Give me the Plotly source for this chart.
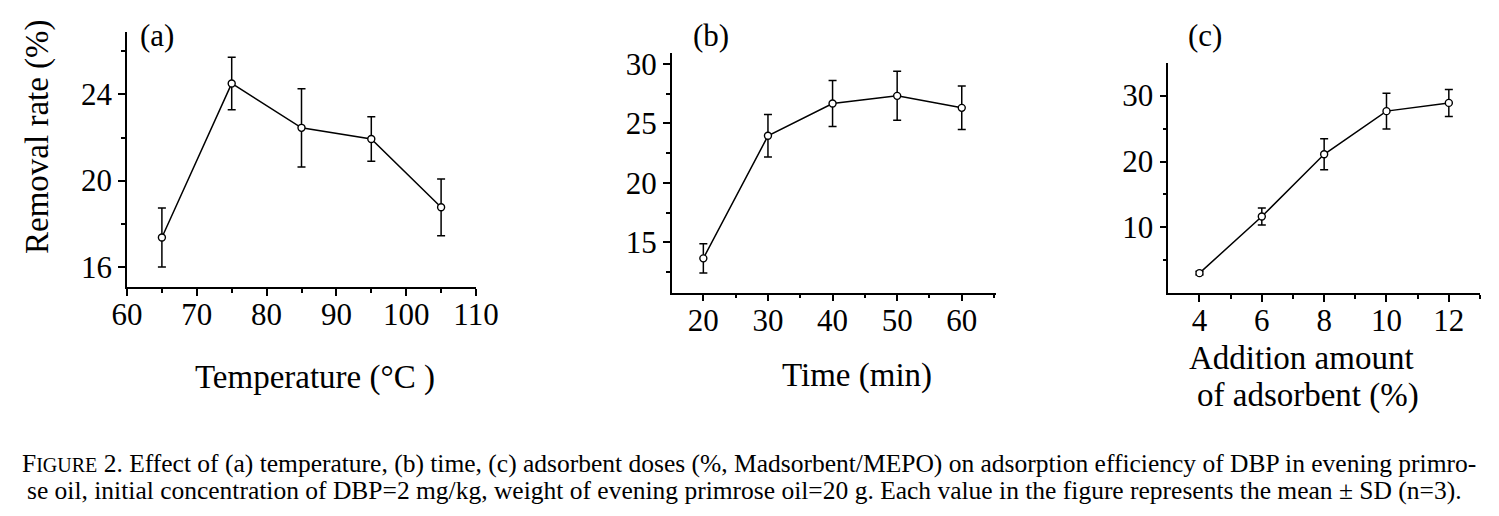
"""Figure 2: DBP removal rate vs temperature, time and adsorbent dose."""

import plotly.graph_objects as go

# panel (a) temperature
temperature = [65, 75, 85, 95, 105]
rate_a = [17.36, 24.51, 22.45, 21.93, 18.76]
sd_a = [1.37, 1.22, 1.82, 1.03, 1.32]

# panel (b) time
time_min = [20, 30, 40, 50, 60]
rate_b = [13.65, 23.96, 26.68, 27.32, 26.31]
sd_b = [1.23, 1.79, 1.94, 2.06, 1.83]

# panel (c) adsorbent dose
dose = [4, 6, 8, 10, 12]
rate_c = [3.06, 11.65, 21.1, 27.65, 28.9]
sd_c = [0.3, 1.3, 2.35, 2.7, 2.05]

# page body keeps its default 8px margin, so the figure is drawn that much smaller
OFF = 8
W, H = 1499 - OFF, 516 - OFF
FONT = "Liberation Serif"


def px_x(v):
    return (v - OFF) / W


def px_y(v):
    return 1 - (v - OFF) / H


def series(x, y, sd, xa, ya):
    return go.Scatter(
        x=x, y=y, xaxis=xa, yaxis=ya,
        mode="lines+markers",
        line=dict(color="black", width=1.5),
        marker=dict(symbol="circle", size=7, color="white",
                    line=dict(color="black", width=1.4)),
        error_y=dict(type="data", array=sd, color="black",
                     thickness=1.5, width=4),
        showlegend=False,
        cliponaxis=False,
    )


fig = go.Figure()
fig.add_trace(series(temperature, rate_a, sd_a, "x", "y"))
fig.add_trace(series(time_min, rate_b, sd_b, "x2", "y2"))
fig.add_trace(series(dose, rate_c, sd_c, "x3", "y3"))

axis_common = dict(
    showline=True, linecolor="black", linewidth=1.5,
    ticks="outside", ticklen=7, tickwidth=1.5, tickcolor="black",
    showgrid=False, zeroline=False, automargin=False,
    tickfont=dict(family=FONT, size=31, color="black"),
)
x_common = dict(axis_common, ticklabelstandoff=-8)
minor_common = dict(ticks="outside", ticklen=4, tickwidth=1.5, tickcolor="black")

fig.update_layout(
    width=W, height=H, autosize=False,
    margin=dict(l=0, r=0, t=0, b=0, pad=0, autoexpand=False),
    paper_bgcolor="white", plot_bgcolor="white",
    font=dict(family=FONT, color="black"),
    xaxis=dict(x_common, domain=[px_x(127), px_x(476)], range=[60, 110],
               dtick=10, anchor="y",
               minor=dict(minor_common, tickvals=[65, 75, 85, 95, 105])),
    yaxis=dict(axis_common, domain=[px_y(287), px_y(32)], range=[15.06, 26.9],
               tickvals=[16, 20, 24], anchor="x",
               minor=dict(minor_common, tickvals=[18, 22, 26])),
    xaxis2=dict(x_common, domain=[px_x(671.7), px_x(996)], range=[15.1, 65.3],
                tickvals=[20, 30, 40, 50, 60], anchor="y2",
                minor=dict(minor_common, tickvals=[25, 35, 45, 55, 65])),
    yaxis2=dict(axis_common, domain=[px_y(292.7), px_y(52.7)], range=[10.76, 30.95],
                tickvals=[15, 20, 25, 30], anchor="x2",
                minor=dict(minor_common, tickvals=[12.5, 17.5, 22.5, 27.5])),
    xaxis3=dict(x_common, domain=[px_x(1168.3), px_x(1480)], range=[3, 13],
                tickvals=[4, 6, 8, 10, 12], anchor="y3",
                minor=dict(minor_common, tickvals=[5, 7, 9, 11, 13])),
    yaxis3=dict(axis_common, domain=[px_y(293.3), px_y(62.7)], range=[0, 35],
                tickvals=[10, 20, 30], anchor="x3",
                minor=dict(minor_common, tickvals=[5, 15, 25])),
)


def label(text, x, y, size, xanchor="center", **kw):
    fig.add_annotation(text=text, x=px_x(x), y=px_y(y), xref="paper", yref="paper",
                       xanchor=xanchor, yanchor="middle", showarrow=False,
                       font=dict(family=FONT, size=size, color="black"), **kw)


label("(a)", 157, 35, 31)
label("(b)", 711, 35, 31)
label("(c)", 1205, 35, 31)
label("Removal rate (%)", 37, 137, 33, textangle=-90)
label("Temperature (°C )", 315, 377, 33)
label("Time (min)", 857, 375, 33)
label("Addition amount", 1301, 358, 33)
label("of adsorbent (%)", 1308, 395, 33)

cap1 = ("F<span style='font-size:20px'>IGURE</span> 2. Effect of (a) temperature, (b) time, "
        "(c) adsorbent doses (%, Madsorbent/MEPO) on adsorption efficiency of DBP in evening primro-")
cap2 = ("se oil, initial concentration of DBP=2 mg/kg, weight of evening primrose oil=20 g. "
        "Each value in the figure represents the mean ± SD (n=3).")
label(cap1, 20, 463, 25.5, xanchor="left")
label(cap2, 25, 490, 25.5, xanchor="left")

fig.write_html("out.html")
